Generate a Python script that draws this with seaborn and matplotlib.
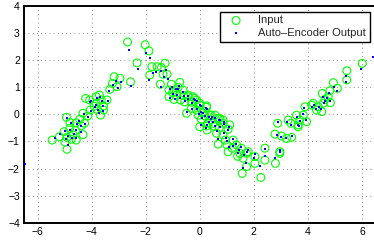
import numpy as np
import pandas as pd
import matplotlib
matplotlib.use("Agg")
import matplotlib.pyplot as plt
import seaborn as sns

# Input samples (green circles)
in_x = [-6.70, -5.46, -5.19, -5.02, -4.99, -4.93, -4.91, -4.91, -4.81, -4.75, -4.69,
        -4.57, -4.57, -4.44, -4.38, -4.32, -4.32, -4.26, -4.22, -4.14, -4.07, -4.05,
        -3.83, -3.83, -3.79, -3.71, -3.67, -3.64, -3.56, -3.56, -3.43, -3.33, -3.23,
        -3.17, -3.06, -2.95, -2.67, -2.56, -2.32,
        -2.02, -1.88, -1.85, -1.77, -1.58, -1.46, -1.42, -1.36, -1.28, -1.21,
        -1.14, -1.14, -1.05, -0.93, -0.86, -0.74, -0.71, -0.62, -0.56, -0.49,
        -0.43, -0.43, -0.31, -0.25, -0.19, -0.12, -0.12, -0.06, 0.00, 0.00, 0.00,
        0.06, 0.06, 0.19, 0.25, 0.25, 0.25, 0.27, 0.31, 0.37, 0.43, 0.49, 0.56,
        0.62, 0.68, 0.68, 0.74, 0.86, 0.86, 0.86, 1.01, 1.05, 1.05, 1.11, 1.23,
        1.36, 1.48, 1.54, 1.57, 1.60, 1.73, 1.73, 1.79, 2.04, 2.04, 2.26, 2.41,
        2.41,
        2.78, 2.80, 2.88, 2.96, 2.96, 3.02, 3.21, 3.27, 3.37, 3.40, 3.58, 3.64,
        3.64, 3.70, 3.83, 3.89, 3.95, 4.14, 4.20, 4.32, 4.38, 4.51, 4.53, 4.57,
        4.63, 4.75, 4.81, 4.83, 4.94, 5.09, 5.44, 5.44, 6.01, 6.70,
        -4.60, -4.80, -3.90, -1.00, -0.80, -0.95, -0.60, -0.30, 0.10, 0.40,
        0.55, 0.72, 0.95, 1.20, 1.40]
in_y = [-2.10, -0.95, -0.83, -0.64, -1.02, -0.11, -1.29, -0.85, -0.52, -0.92, -0.76,
        -0.95, -0.31, -0.18, -0.42, -0.75, 0.04, -0.33, 0.59, -0.06, 0.53, 0.16,
        0.41, 0.65, 0.18, 0.71, -0.03, 0.53, 0.31, 0.16, 0.53, 0.92, 1.14,
        1.39, 1.02, 1.33, 2.67, 1.20, 1.90,
        2.57, 2.34, 1.45, 1.76, 1.76, 1.11, 1.73, 1.48, 1.89, 1.48,
        0.90, 0.65, 1.11, 0.90, 0.71, 1.18, 0.53, 0.90, 0.46, 0.04,
        0.65, 0.71, 0.22, 0.65, 0.59, 0.16, 0.53, -0.03, 0.41, 0.34, -0.46,
        0.18, -0.18, -0.06, 0.31, 0.26, -0.43, -0.58, -0.33, -0.03, -0.03, -0.33, -0.03,
        -0.70, -0.15, -1.10, -0.15, -0.21, -0.33, -0.76, -1.13, -0.55, -1.38, -0.39, -0.95,
        -1.13, -1.44, -1.25, -2.18, -1.62, -1.93, -1.44, -1.38, -1.81, -1.56, -2.33, -1.69,
        -1.25,
        -0.73, -1.81, -0.33, -1.38, -1.44, -0.80, -0.89, -0.21, -0.33, -0.85, -0.03, -0.39,
        -0.46, -0.21, -0.03, 0.28, -0.27, 0.34, 0.41, 0.16, 0.28, 0.10, 0.77, 0.41,
        0.55, 0.65, 0.87, 0.43, 1.17, 0.96, 1.61, 1.27, 1.88, 2.40,
        -0.60, -0.30, 0.30, 0.80, 1.00, 0.55, 0.70, 0.45, 0.05, -0.20,
        -0.45, -0.50, -0.95, -1.25, -1.55]

# Auto-encoder reconstruction (blue dots)
out_x = [-6.48, -5.37, -5.18, -4.98, -4.95, -4.90, -4.86, -4.88, -4.80, -4.72, -4.66,
         -4.58, -4.55, -4.45, -4.40, -4.40, -4.28, -4.24, -4.02, -4.12, -4.05, -4.02,
         -3.82, -3.80, -3.78, -3.69, -3.72, -3.62, -3.58, -3.58, -3.41, -3.36, -3.20,
         -3.11, -3.04, -2.93, -2.63, -2.53, -2.27,
         -2.00, -1.85, -1.88, -1.73, -1.60, -1.44, -1.45, -1.34, -1.26, -1.17,
         -1.10, -1.10, -1.02, -0.88, -0.84, -0.76, -0.72, -0.62, -0.54, -0.48,
         -0.42, -0.45, -0.30, -0.22, -0.16, -0.12, -0.10, -0.04, 0.02, 0.03, 0.04,
         0.05, 0.08, 0.18, 0.22, 0.28, 0.28, 0.24, 0.33, 0.36, 0.45, 0.50, 0.55,
         0.63, 0.70, 0.66, 0.76, 0.88, 0.90, 0.88, 1.02, 1.06, 1.08, 1.10, 1.24,
         1.34, 1.46, 1.52, 1.60, 1.62, 1.70, 1.76, 1.80, 2.02, 2.06, 2.22, 2.40,
         2.42,
         2.84, 2.78, 2.88, 2.98, 2.98, 3.02, 3.18, 3.24, 3.36, 3.42, 3.60, 3.62,
         3.66, 3.70, 3.82, 3.86, 3.94, 4.14, 4.22, 4.30, 4.40, 4.50, 4.55, 4.58,
         4.62, 4.72, 4.78, 4.82, 4.96, 5.08, 5.40, 5.40, 5.96, 6.42,
         -4.58, -4.76, -3.88, -0.98, -0.80, -0.92, -0.58, -0.28, 0.12, 0.42,
         0.56, 0.74, 0.96, 1.22, 1.42]
out_y = [-1.83, -0.86, -0.74, -0.60, -0.92, -0.12, -1.12, -0.80, -0.58, -0.86, -0.74,
         -0.88, -0.36, -0.25, -0.44, -0.66, 0.00, -0.36, 0.48, -0.10, 0.46, 0.12,
         0.36, 0.60, 0.16, 0.64, 0.04, 0.50, 0.30, 0.12, 0.48, 0.86, 1.08,
         1.24, 0.96, 1.18, 2.37, 1.04, 1.68,
         2.27, 2.07, 1.27, 1.54, 1.58, 1.02, 1.60, 1.38, 1.63, 1.30,
         0.92, 0.60, 1.00, 0.92, 0.70, 1.04, 0.60, 0.84, 0.50, 0.10,
         0.58, 0.66, 0.20, 0.58, 0.52, 0.20, 0.48, 0.00, 0.36, 0.30, -0.40,
         0.10, -0.12, -0.05, 0.24, 0.20, -0.38, -0.52, -0.30, -0.10, -0.08, -0.30, -0.12,
         -0.60, -0.20, -0.92, -0.22, -0.28, -0.36, -0.70, -1.00, -0.56, -1.20, -0.45, -0.90,
         -1.08, -1.30, -1.22, -1.98, -1.50, -1.78, -1.38, -1.30, -1.60, -1.45, -1.92, -1.52,
         -1.28,
         -0.78, -1.60, -0.30, -1.30, -1.38, -0.84, -0.86, -0.28, -0.38, -0.80, -0.10, -0.40,
         -0.44, -0.24, 0.00, 0.22, -0.20, 0.28, 0.36, 0.20, 0.26, 0.18, 0.64, 0.42,
         0.50, 0.62, 0.80, 0.50, 1.00, 0.88, 1.40, 1.20, 1.66, 2.12,
         -0.58, -0.32, 0.26, 0.74, 0.92, 0.56, 0.66, 0.42, 0.04, -0.18,
         -0.42, -0.48, -0.88, -1.18, -1.42]

x_ticks = [-6, -4, -2, 0, 2, 4, 6]
y_ticks = [-4, -3, -2, -1, 0, 1, 2, 3, 4]

df_in = pd.DataFrame({"x": in_x, "y": in_y})
df_out = pd.DataFrame({"x": out_x, "y": out_y})

sns.set_style("white")
plt.rcParams['font.family'] = ['Liberation Sans', 'DejaVu Sans']

fig = plt.figure(figsize=(3.74, 2.46), dpi=100)
ax = fig.add_axes([0.0642, 0.0947, 0.9398, 0.881])

sns.scatterplot(data=df_in, x="x", y="y", ax=ax, marker="o", s=32,
                facecolors="none", edgecolor="#00ff00", linewidth=0.8,
                label="Input", zorder=3)
sns.scatterplot(data=df_out, x="x", y="y", ax=ax, marker="s", s=4,
                color="#0000ff", linewidth=0, label="Auto\u2013Encoder Output",
                zorder=4)

ax.set_xlim(-6.5, 6.5)
ax.set_ylim(-4, 4)
ax.set_xticks(x_ticks)
ax.set_yticks(y_ticks)
ax.set_xlabel("")
ax.set_ylabel("")
ax.grid(True, linestyle=(0, (1, 4)), color="#666666", linewidth=0.6)
ax.tick_params(direction="in", length=3, width=0.8, labelsize=7.5, pad=3,
               colors="black")
for side in ["left", "bottom", "top", "right"]:
    ax.spines[side].set_color("black")
    ax.spines[side].set_linewidth(1.4)

leg = ax.legend(loc="upper right", fontsize=8, frameon=True, fancybox=False,
                framealpha=1, edgecolor="black", borderpad=0.35,
                handletextpad=0.9, labelspacing=0.2, borderaxespad=0.5,
                handlelength=2.2, markerscale=1.0)
leg.get_frame().set_linewidth(1.0)

fig.savefig("out.png", dpi=100)
